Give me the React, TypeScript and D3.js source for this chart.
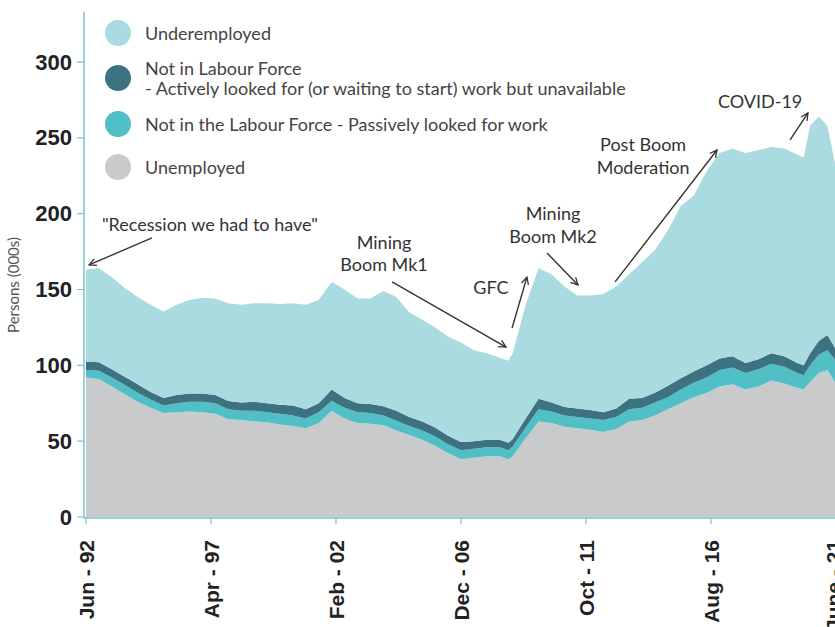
import React from 'react';
import * as d3 from 'd3';

// month index from Jun-92
const months = [0, 6, 12, 18, 24, 30, 36, 42, 48, 54, 60, 66, 72, 78, 84, 90, 96, 102, 108, 114, 120, 126, 132, 138, 144, 150, 156, 162, 168, 174, 180, 186, 192, 196, 198, 204, 210, 216, 222, 228, 234, 240, 246, 252, 258, 264, 270, 276, 282, 288, 294, 300, 306, 312, 318, 324, 330, 333, 336, 340, 344, 348];
const unemployed = [92, 91, 86, 81, 76, 72, 68.5, 69, 69.5, 69, 68, 64.5, 64, 63, 62.5, 61, 60, 58.5, 62, 70, 65, 62, 61.5, 60.5, 57, 54, 51, 47, 42, 38, 39, 40, 40, 38, 40, 52, 63, 62, 59.5, 58.5, 57.5, 56, 58, 63, 64, 67, 71, 75, 79, 82, 86, 87.5, 84, 86, 90, 88, 85, 84, 89, 95, 97, 88];
const passive = [5, 5.5, 6, 6, 6, 5.5, 5, 6, 6.5, 7, 7, 6.5, 6, 7, 6.5, 7, 7, 6.5, 7, 6.5, 7, 7, 7, 6.5, 6.5, 6, 6, 6, 6, 6, 6, 6, 6, 6, 6.5, 7, 8, 7.5, 7.5, 7.5, 7.5, 8, 8, 8, 8, 8.5, 8, 9, 9.5, 10, 11, 11, 11, 11.5, 11, 11, 10, 9.5, 11, 12, 13, 15];
const active = [5.5, 5.5, 5.5, 5.5, 5.5, 5, 5, 5.5, 5.5, 5.5, 5.5, 5.5, 5.5, 6, 6, 6, 6.5, 6, 6, 7.5, 6.5, 6, 6, 6, 6.5, 6, 6, 6, 5.5, 5.5, 5, 5, 5, 5, 5, 6, 7, 6, 5.5, 5.5, 5.5, 5, 5.5, 7, 6.5, 6.5, 7.5, 7.5, 7.5, 8, 7.5, 7.5, 6.5, 6.5, 7, 7, 6.5, 6.5, 8, 9, 10, 7.5];
const underemployed = [60.5, 62, 60.5, 58.5, 57.5, 57.5, 57, 59.5, 61.5, 63, 63.5, 64.5, 64.5, 65, 66, 66.5, 67.5, 69, 68, 71, 71.5, 69, 69.5, 76, 75, 69, 67, 66, 65.5, 65.5, 60, 57, 54, 54, 56.5, 75, 86, 84.5, 79.5, 74.5, 75.5, 78, 80.5, 82, 89.5, 94, 102.5, 113.5, 116, 128, 135.5, 137, 138.5, 138, 136, 137, 137.5, 137, 150, 148, 138, 119.5];

const tickMonths = [0, 58, 116, 174, 232, 290, 348];
const tickLabels = ['Jun - 92', 'Apr - 97', 'Feb - 02', 'Dec - 06', 'Oct - 11', 'Aug - 16', 'June - 21'];
const yTicks = [0, 50, 100, 150, 200, 250, 300];

const seriesKeys = ['unemployed', 'passive', 'active', 'underemployed'];
const seriesColors = ['#c8cacc', '#50bfc6', '#3d7280', '#aadbe0'];

const legendLabels = [
  ['Underemployed'],
  ['Not in Labour Force', '- Actively looked for (or waiting to start) work but unavailable'],
  ['Not in the Labour Force - Passively looked for work'],
  ['Unemployed'],
];
const legendColors = ['#aadbe0', '#3d7280', '#50bfc6', '#c8cacc'];

// annotations in data coordinates [month, value]
const annotationTexts = [
  { lines: ['"Recession we had to have"'], at: [57.5, 193.2] },
  { lines: ['Mining', 'Boom Mk1'], at: [138.3, 174] },
  { lines: ['GFC'], at: [187.9, 151.6] },
  { lines: ['Mining', 'Boom Mk2'], at: [216.7, 193] },
  { lines: ['Post Boom', 'Moderation'], at: [258.5, 238.4] },
  { lines: ['COVID-19'], at: [312.8, 274.3] },
];
const annotationArrows = [
  { from: [30.6, 184], to: [1.4, 166.2] },
  { from: [142, 155], to: [194.9, 112] },
  { from: [197.7, 124.6], to: [204.6, 158.2] },
  { from: [213.9, 174.1], to: [228.3, 153] },
  { from: [245.5, 155], to: [292.8, 242] },
  { from: [326.7, 248.6], to: [335, 266.4] },
];

const W = 835;
const H = 627;

export default function App() {
  const x = d3.scaleLinear().domain([0, 348]).range([86, 836]);
  const y = d3.scaleLinear().domain([0, 300]).range([517, 62]);

  const table = months.map((m, i) => ({
    m,
    unemployed: unemployed[i],
    passive: passive[i],
    active: active[i],
    underemployed: underemployed[i],
  }));
  const stacked = d3.stack<any>().keys(seriesKeys)(table);
  const area = d3
    .area<any>()
    .x((d) => x(d.data.m))
    .y0((d) => y(d[0]))
    .y1((d) => y(d[1]))
    .curve(d3.curveLinear);

  const axisColor = '#74c6cb';
  const textFont = 'Lato, "Open Sans", sans-serif';
  const boldFont = '"Liberation Sans", Arial, sans-serif';

  const lineH = 22.5;
  const fs = 18;

  return (
    <svg width={W} height={H} style={{ position: 'absolute', left: 0, top: 0, background: '#fff' }}>
      <defs>
        <marker id="arr" viewBox="0 0 10 10" refX="9" refY="5" markerWidth="9" markerHeight="9" orient="auto" markerUnits="userSpaceOnUse">
          <path d="M1,1 L9,5 L1,9" fill="none" stroke="#333" strokeWidth="1.4" />
        </marker>
      </defs>
      {stacked.map((s, i) => (
        <path key={seriesKeys[i]} d={area(s as any) || ''} fill={seriesColors[i]} />
      ))}

      {/* axes */}
      <line x1={84} x2={84} y1={12} y2={518} stroke={axisColor} strokeWidth={1.5} />
      <line x1={84} x2={W} y1={518} y2={518} stroke={axisColor} strokeWidth={1.5} />
      {yTicks.map((t) => (
        <g key={t}>
          <line x1={77} x2={84} y1={y(t)} y2={y(t)} stroke={axisColor} strokeWidth={1.2} />
          <text x={72} y={y(t)} textAnchor="end" dominantBaseline="central" fontFamily={boldFont} fontWeight="bold" fontSize={22} fill="#222">
            {t}
          </text>
        </g>
      ))}
      {tickMonths.map((m, i) => (
        <g key={m}>
          <line x1={x(m)} x2={x(m)} y1={518} y2={524} stroke={axisColor} strokeWidth={1.2} />
          <text transform={`translate(${Math.min(x(m) + 7.5, 841)},540) rotate(-90)`} textAnchor="end" fontFamily={boldFont} fontWeight="bold" fontSize={21} fill="#222">
            {tickLabels[i]}
          </text>
        </g>
      ))}
      <text transform="translate(19,285) rotate(-90)" textAnchor="middle" fontFamily={textFont} fontSize={15} fill="#555">
        Persons (000s)
      </text>

      {/* legend */}
      {legendLabels.map((lines, i) => {
        const cy = [33, 78, 124, 167][i];
        return (
          <g key={i}>
            <circle cx={118} cy={cy} r={13} fill={legendColors[i]} />
            {lines.map((ln, j) => (
              <text key={j} x={145} y={cy + (j - (lines.length - 1) / 2) * 20} dominantBaseline="central" fontFamily={textFont} fontSize={fs} fill="#444">
                {ln}
              </text>
            ))}
          </g>
        );
      })}

      {/* annotations */}
      {annotationTexts.map((a, i) => (
        <g key={i}>
          {a.lines.map((ln, j) => (
            <text key={j} x={x(a.at[0])} y={y(a.at[1]) + (j - (a.lines.length - 1) / 2) * lineH} textAnchor="middle" dominantBaseline="central" fontFamily={textFont} fontSize={fs} fill="#333">
              {ln}
            </text>
          ))}
        </g>
      ))}
      {annotationArrows.map((a, i) => (
        <line key={i} x1={x(a.from[0])} y1={y(a.from[1])} x2={x(a.to[0])} y2={y(a.to[1])} stroke="#333" strokeWidth={1.4} markerEnd="url(#arr)" />
      ))}
    </svg>
  );
}
